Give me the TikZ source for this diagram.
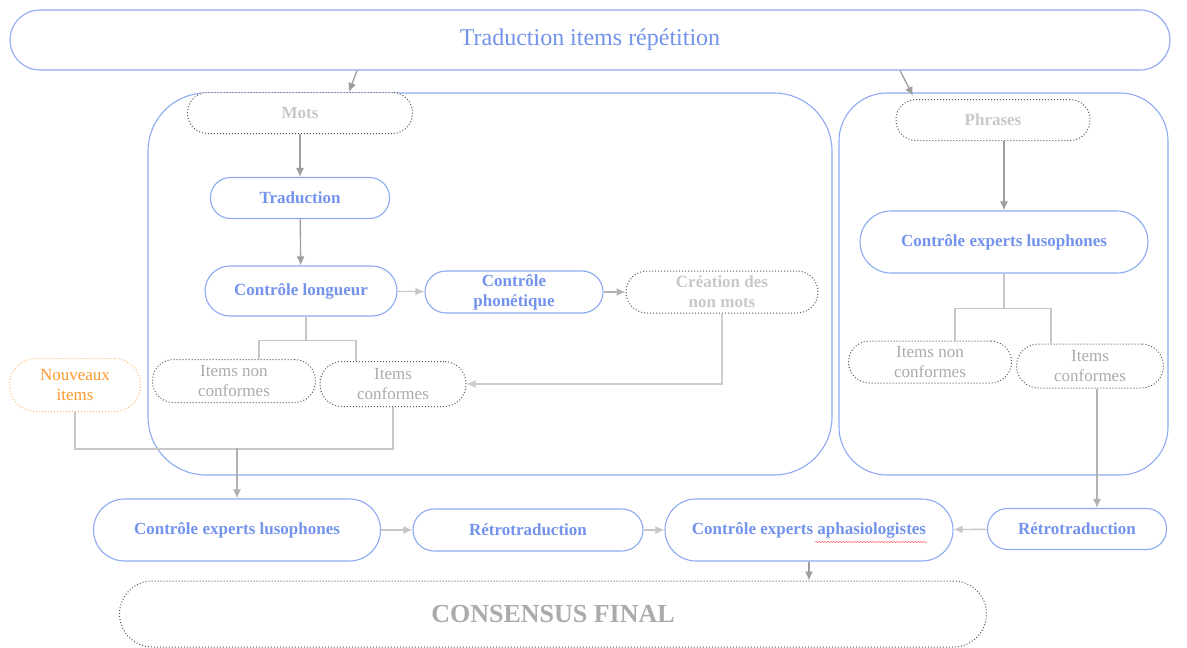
\documentclass[tikz,border=0pt]{standalone}
\usepackage{fontspec}
\setmainfont{Liberation Serif}
\usetikzlibrary{arrows.meta,decorations.pathmorphing}
\definecolor{lineblue}{HTML}{8CA9F2}
\definecolor{textblue}{HTML}{7393EC}
\definecolor{palegray}{HTML}{C8C8C8}
\definecolor{itemgray}{HTML}{ABABAB}
\definecolor{newsorange}{HTML}{FF9A2E}
\tikzset{
	stepbox/.style={draw=lineblue, line width=1.1pt, fill=white, text=textblue, align=center,
		font=\bfseries\fontsize{17}{20}\selectfont, inner sep=0pt},
	dotbox/.style={draw=black!65, dotted, line width=1pt, fill=white, text=palegray, align=center,
		font=\bfseries\fontsize{17}{20}\selectfont, inner sep=0pt},
	itembox/.style={dotbox, text=itemgray, font=\fontsize{17}{20}\selectfont},
	groupbox/.style={draw=lineblue, line width=1.1pt},
	arr/.style={draw=black!38, line width=1.3pt, -{Latex[length=9pt,width=8pt]}},
	link/.style={draw=black!22, line width=1.2pt},
	spell/.style={draw=red!55, line width=0.5pt, decorate, decoration={snake, amplitude=0.8pt, segment length=3pt}},
}
\begin{document}
\begin{tikzpicture}[x=1pt, y=-1pt]
		%%%%% START %%%%%
		\useasboundingbox (0,0) rectangle (1187,648);
		
		\draw[groupbox, rounded corners=58pt] (148,93) rectangle (832,475);
		\draw[groupbox, rounded corners=48pt] (839,93) rectangle (1168,475);
		
		\node[stepbox, minimum width=1160pt, minimum height=60pt, rounded corners=30pt,
			font=\fontsize{24}{28}\selectfont] (title) at (590,40) {Traduction items répétition};
		
		% mots
		\node[dotbox, minimum width=225pt, minimum height=41pt, rounded corners=20pt] (mots) at (300,113) {Mots};
		\node[stepbox, minimum width=179pt, minimum height=41pt, rounded corners=20pt] (trad) at (300,198) {Traduction};
		\node[stepbox, minimum width=192pt, minimum height=50pt, rounded corners=25pt] (longueur) at (301,291) {Contrôle longueur};
		\node[stepbox, minimum width=178pt, minimum height=42pt, rounded corners=21pt] (phon) at (514,292) {Contrôle\\phonétique};
		\node[dotbox, minimum width=192pt, minimum height=42pt, rounded corners=21pt] (creation) at (722,292) {Création des\\non mots};
		\node[itembox, minimum width=163pt, minimum height=43pt, rounded corners=21pt] (nonconf) at (234,381) {Items non\\conformes};
		\node[itembox, minimum width=146pt, minimum height=45pt, rounded corners=22pt] (conf) at (393,384) {Items\\conformes};
		\node[itembox, draw=newsorange!70, text=newsorange, minimum width=131pt, minimum height=53pt,
			rounded corners=26pt] (nouveaux) at (75,385) {Nouveaux\\items};
		
		% phrases
		\node[dotbox, minimum width=194pt, minimum height=41pt, rounded corners=20pt] (phrases) at (993,120) {Phrases};
		\node[stepbox, minimum width=288pt, minimum height=62pt, rounded corners=31pt] (celr) at (1004,242) {Contrôle experts lusophones};
		\node[itembox, minimum width=163pt, minimum height=42pt, rounded corners=21pt] (nonconfr) at (930,362) {Items non\\conformes};
		\node[itembox, minimum width=147pt, minimum height=44pt, rounded corners=22pt] (confr) at (1090,366) {Items\\conformes};
		
		% bas
		\node[stepbox, minimum width=287pt, minimum height=62pt, rounded corners=31pt] (cell) at (237,530) {Contrôle experts lusophones};
		\node[stepbox, minimum width=230pt, minimum height=42pt, rounded corners=21pt] (retro) at (528,530) {Rétrotraduction};
		\node[stepbox, minimum width=288pt, minimum height=62pt, rounded corners=31pt] (cea) at (809,530) {Contrôle experts aphasiologistes};
		\node[stepbox, minimum width=179pt, minimum height=41pt, rounded corners=20pt] (retror) at (1077,529) {Rétrotraduction};
		\node[dotbox, text=itemgray, minimum width=867pt, minimum height=66pt, rounded corners=33pt,
			font=\bfseries\fontsize{26}{30}\selectfont] (consensus) at (553,614) {CONSENSUS FINAL};
		
		\draw[spell] ([shift={(6,12)}]cea.center) -- ([shift={(118,12)}]cea.center);
		
		\draw[arr] ([xshift=-233pt]title.south) -- ([xshift=49pt]mots.north);
		\draw[arr] ([xshift=310pt]title.south) -- ([xshift=-80pt,yshift=3pt]phrases.north);
		
		\draw[arr] (mots) -- (trad);
		\draw[arr] (trad) -- (longueur);
		\draw[arr, draw=black!22] (longueur) -- (phon);
		\draw[arr, draw=black!30] (phon) -- (creation);
		\draw[link] ([xshift=5pt]longueur.south) -- ++(0,24) coordinate (split);
		\draw[link] ([xshift=25pt]nonconf.north) |- (split) -| ([xshift=-37pt]conf.north);
		\draw[arr, draw=black!20] (creation.south) |- (conf.east);
		
		\draw[link] (nouveaux.south) -- ++(0,37) -| (conf.south);
		\draw[arr, draw=black!30] (cell.north |- 0,448) -- (cell.north);
		
		\draw[arr] (phrases.south -| celr.north) -- (celr.north);
		\draw[link] (celr.south) -- ++(0,35) coordinate (splitr);
		\draw[link] ([xshift=25pt]nonconfr.north) |- (splitr) -| ([xshift=-39pt]confr.north);
		\draw[arr, draw=black!30] ([xshift=7pt]confr.south) -- ([xshift=20pt]retror.north);
		
		\draw[arr, draw=black!22] (cell) -- (retro);
		\draw[arr, draw=black!22] (retro) -- (cea);
		\draw[arr, draw=black!22] (retror) -- (cea);
		\draw[arr] (cea.south) -- (cea.south |- consensus.north);
		%%%%% END %%%%%
\end{tikzpicture}
\end{document}
